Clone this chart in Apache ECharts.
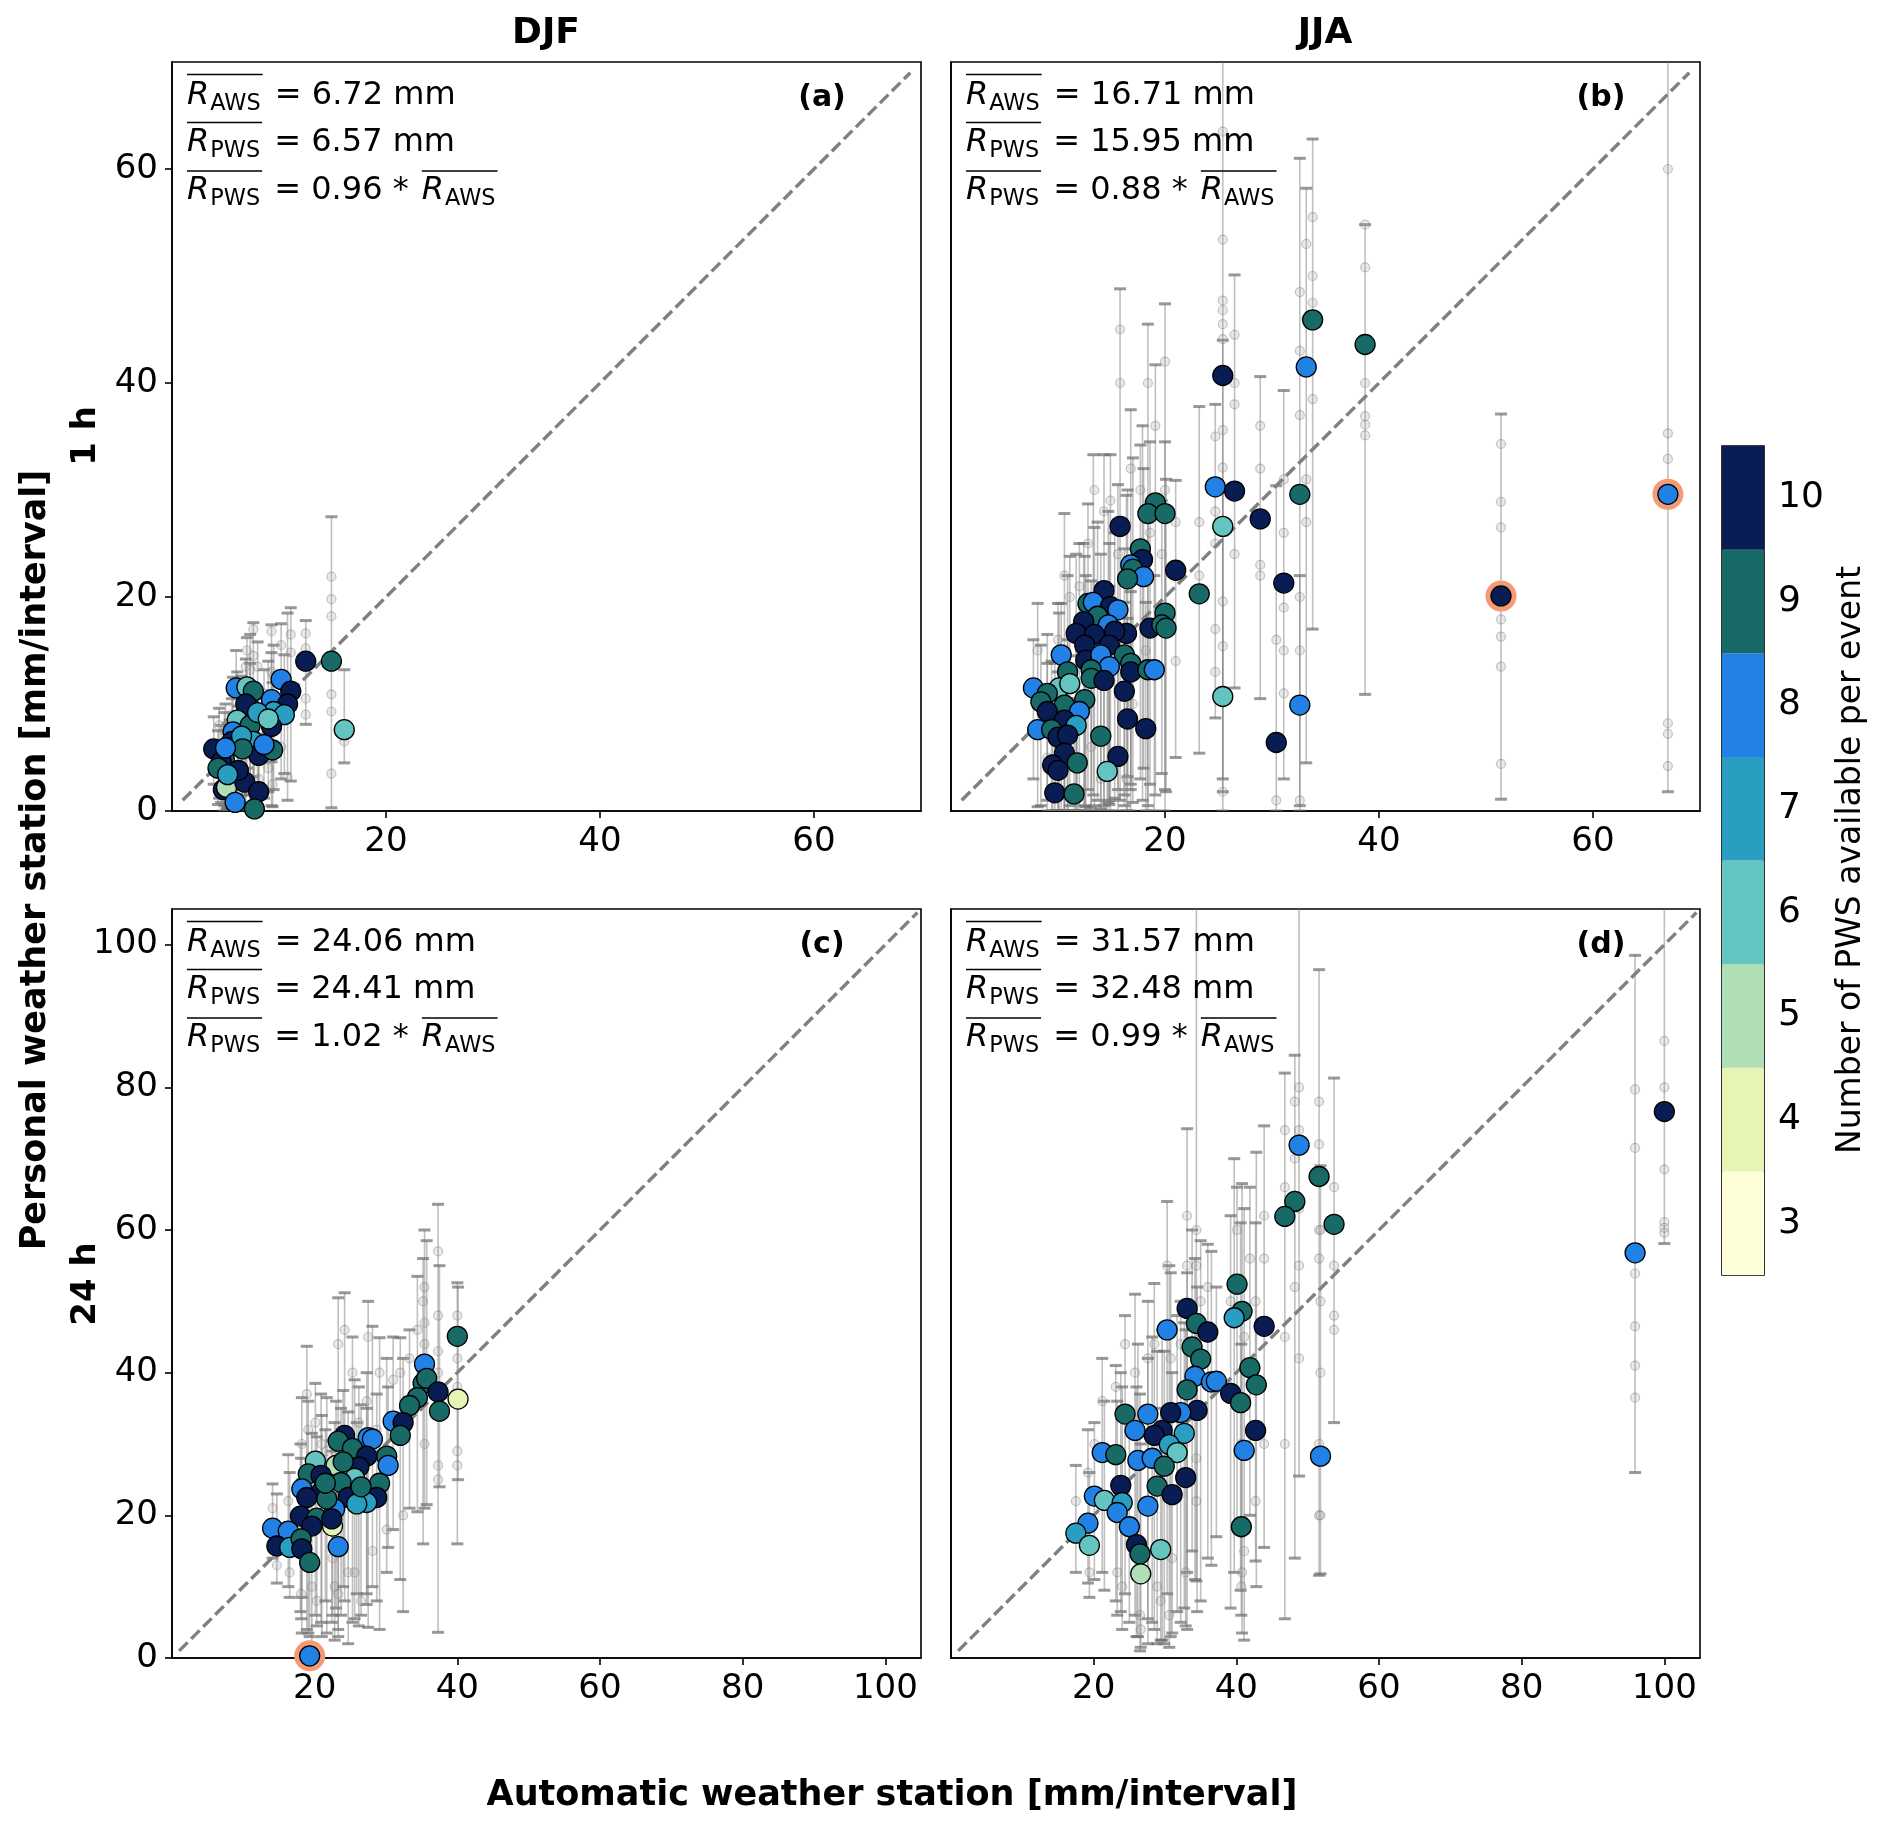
<!DOCTYPE html>
<html>
<head>
<meta charset="utf-8">
<title>AWS vs PWS</title>
<script src="https://cdn.jsdelivr.net/npm/echarts@6/dist/echarts.min.js"></script>
<style>
	html, body { margin: 0; padding: 0; background: #fff; }
	#chart { width: 1892px; height: 1832px; }
</style>
</head>
<body>
<div id="chart"></div>
<script>
// Colour levels of the colour bar (number of PWS per event)
const CB_LEVELS = [ 3, 4, 5, 6, 7, 8, 9, 10 ];
const CB_COLORS = [ '#fefed8', '#e6f5b3', '#b0dfb6', '#64c4bf', '#2a9ec1', '#2281e5', '#176a66', '#0a1c54' ];

const TICKS_SHORT = [ 20, 40, 60 ];
const TICKS_LONG = [ 20, 40, 60, 80, 100 ];
const YTICKS_SHORT = [ 0, 20, 40, 60 ];
const YTICKS_LONG = [ 0, 20, 40, 60, 80, 100 ];
const DIAG_SHORT = [ [ 1, 1 ], [ 69, 69 ] ];
const DIAG_LONG = [ [ 1, 1 ], [ 104.5, 104.5 ] ];

// Stats text: mean AWS, mean PWS, ratio
const STATS_A = [ '6.72', '6.57', '0.96' ];
const STATS_B = [ '16.71', '15.95', '0.88' ];
const STATS_C = [ '24.06', '24.41', '1.02' ];
const STATS_D = [ '31.57', '32.48', '0.99' ];

// Events: [AWS, PWS, number of PWS, PWS min, PWS max]
const EVENTS_A = [
	[ 12.5, 14.0, 10, 8.1, 17.8 ], [ 14.9, 14.0, 9, 0.3, 27.5 ], [ 16.1, 7.6, 6, 4.5, 13.2 ],
	[ 10.2, 12.3, 8, 3.0, 17.5 ], [ 11.1, 11.2, 10, 2.8, 19.0 ], [ 6.0, 11.5, 8, 5.5, 15.0 ],
	[ 7.0, 11.6, 6, 4.0, 16.2 ], [ 7.6, 11.2, 9, 3.2, 17.6 ], [ 9.3, 10.4, 8, 4.6, 17.4 ],
	[ 10.8, 10.0, 10, 1.0, 18.5 ], [ 9.5, 9.3, 7, 2.0, 15.5 ], [ 10.5, 9.0, 7, 3.5, 14.6 ],
	[ 7.3, 9.6, 9, 1.5, 16.5 ], [ 6.9, 10.0, 10, 0.5, 14.2 ], [ 6.1, 8.5, 6, 1.0, 13.0 ],
	[ 5.7, 7.4, 8, 0.8, 12.5 ], [ 7.3, 8.0, 9, 0.6, 13.8 ], [ 9.3, 7.9, 10, 0.5, 14.8 ],
	[ 7.6, 6.5, 7, 0.3, 11.6 ], [ 8.1, 5.2, 10, 0.2, 10.5 ], [ 9.4, 5.7, 9, 0.4, 12.0 ],
	[ 5.6, 6.5, 10, 1.8, 10.5 ], [ 4.4, 5.5, 9, 1.2, 9.6 ], [ 3.9, 5.8, 10, 2.5, 8.8 ],
	[ 4.9, 4.8, 9, 0.5, 9.2 ], [ 4.6, 4.6, 10, 0.8, 8.0 ], [ 4.3, 4.0, 9, 0.6, 7.5 ],
	[ 5.4, 2.9, 8, 0.2, 8.5 ], [ 4.8, 2.0, 10, 0.0, 6.0 ], [ 5.1, 2.2, 5, 0.2, 5.5 ],
	[ 6.8, 2.7, 10, 0.1, 9.0 ], [ 8.1, 1.8, 10, 0.0, 7.2 ], [ 5.9, 0.8, 8, 0.0, 4.5 ],
	[ 7.7, 0.2, 9, 0.0, 5.0 ], [ 6.2, 3.8, 10, 0.5, 9.8 ], [ 5.2, 3.4, 7, 0.3, 8.2 ],
	[ 6.5, 7.0, 7, 1.5, 12.6 ], [ 8.6, 6.2, 8, 1.2, 13.2 ], [ 8.0, 9.2, 7, 2.4, 15.8 ],
	[ 9.0, 8.6, 6, 1.8, 14.0 ], [ 6.6, 5.8, 9, 0.4, 11.0 ], [ 5.0, 5.9, 8, 1.5, 10.0 ]
];
const EVENTS_B = [
	[ 15.8, 26.6, 10, 1.0, 48.8 ], [ 19.1, 28.8, 9, 1.5, 41.7 ], [ 18.4, 27.8, 9, 0.5, 45.5 ],
	[ 20.0, 27.8, 9, 2.0, 47.4 ], [ 17.7, 24.5, 9, 3.0, 34.2 ], [ 17.9, 23.5, 10, 1.0, 36.0 ],
	[ 16.8, 23.0, 8, 2.5, 37.5 ], [ 17.0, 22.6, 9, 0.8, 33.0 ], [ 18.0, 21.9, 8, 4.0, 32.0 ],
	[ 16.5, 21.7, 9, 3.2, 30.0 ], [ 21.0, 22.5, 10, 5.0, 30.9 ], [ 23.2, 20.3, 9, 5.4, 37.8 ],
	[ 14.3, 20.6, 10, 0.5, 33.3 ], [ 12.8, 19.4, 9, 2.0, 28.7 ], [ 13.3, 19.5, 8, 1.5, 33.3 ],
	[ 14.9, 19.1, 10, 0.0, 33.3 ], [ 15.6, 18.8, 8, 2.0, 30.5 ], [ 13.7, 18.2, 9, 1.0, 27.0 ],
	[ 12.4, 17.7, 10, 0.5, 25.0 ], [ 14.7, 17.4, 8, 0.8, 28.0 ], [ 16.4, 16.6, 10, 0.0, 29.5 ],
	[ 15.3, 16.8, 10, 1.2, 26.0 ], [ 11.7, 16.6, 10, 0.0, 24.0 ], [ 13.4, 16.5, 10, 0.5, 26.5 ],
	[ 18.6, 17.1, 10, 2.5, 34.5 ], [ 20.0, 18.5, 9, 0.0, 34.5 ], [ 19.7, 17.4, 9, 3.5, 29.0 ],
	[ 20.1, 17.1, 9, 1.8, 31.0 ], [ 12.5, 15.5, 10, 0.0, 23.8 ], [ 14.8, 15.5, 10, 1.0, 25.0 ],
	[ 10.3, 14.6, 8, 0.0, 19.4 ], [ 12.6, 14.1, 10, 0.4, 22.0 ], [ 14.0, 14.6, 8, 0.2, 24.0 ],
	[ 16.2, 14.6, 9, 1.5, 24.5 ], [ 16.8, 13.8, 9, 0.0, 22.5 ], [ 14.8, 13.5, 8, 0.6, 21.0 ],
	[ 16.8, 13.0, 10, 2.0, 20.5 ], [ 18.4, 13.2, 9, 0.0, 27.0 ], [ 19.0, 13.2, 8, 0.0, 22.0 ],
	[ 13.1, 13.2, 9, 0.0, 21.5 ], [ 13.1, 12.4, 9, 0.3, 20.0 ], [ 14.3, 12.2, 10, 0.0, 20.5 ],
	[ 10.9, 13.0, 9, 0.0, 22.0 ], [ 10.1, 11.5, 6, 0.0, 18.5 ], [ 11.1, 11.9, 6, 0.5, 23.8 ],
	[ 7.7, 11.5, 8, 3.0, 16.0 ], [ 9.0, 11.0, 9, 1.0, 13.8 ], [ 8.4, 10.2, 9, 0.5, 15.5 ],
	[ 12.5, 10.4, 9, 0.0, 19.0 ], [ 10.6, 9.9, 9, 0.0, 27.8 ], [ 9.0, 9.3, 10, 0.0, 16.5 ],
	[ 12.0, 9.3, 8, 0.0, 25.0 ], [ 16.2, 11.2, 10, 0.5, 19.5 ], [ 10.6, 8.5, 10, 0.0, 15.0 ],
	[ 11.7, 8.0, 7, 0.0, 17.0 ], [ 8.1, 7.6, 8, 0.4, 19.4 ], [ 9.4, 7.6, 9, 0.0, 14.0 ],
	[ 10.0, 6.9, 10, 0.0, 19.4 ], [ 10.9, 7.1, 10, 0.0, 16.0 ], [ 16.5, 8.6, 10, 0.0, 18.0 ],
	[ 18.2, 7.7, 10, 0.0, 19.5 ], [ 14.0, 7.0, 9, 0.0, 17.5 ], [ 10.6, 5.4, 10, 0.0, 12.5 ],
	[ 15.6, 5.1, 10, 0.0, 15.0 ], [ 14.6, 3.7, 6, 0.0, 12.0 ], [ 11.8, 4.5, 9, 0.0, 14.5 ],
	[ 9.5, 4.3, 10, 0.0, 11.5 ], [ 10.0, 3.8, 10, 0.0, 13.0 ], [ 9.7, 1.7, 10, 0.0, 13.8 ],
	[ 11.5, 1.6, 9, 0.0, 10.5 ], [ 33.2, 41.5, 8, 4.5, 58.2 ], [ 33.8, 45.9, 9, 17.0, 62.8 ],
	[ 25.4, 40.7, 10, 1.8, 75.0 ], [ 38.7, 43.6, 9, 10.9, 54.8 ], [ 24.7, 30.3, 8, 8.7, 38.0 ],
	[ 26.5, 29.9, 10, 11.5, 50.1 ], [ 25.4, 26.6, 6, 3.0, 44.0 ], [ 28.9, 27.3, 10, 10.5, 40.6 ],
	[ 32.6, 29.6, 9, 0.0, 61.0 ], [ 31.1, 21.3, 10, 3.0, 39.3 ], [ 51.4, 20.1, 10, 1.1, 37.1 ],
	[ 67.0, 29.6, 8, 1.8, 75.0 ], [ 25.4, 10.7, 6, 0.0, 30.0 ], [ 32.6, 9.9, 8, 0.5, 22.0 ],
	[ 30.4, 6.4, 10, 0.0, 30.4 ]
];
const EVENTS_C = [
	[ 40.0, 45.1, 9, 16.0, 52.6 ], [ 40.1, 36.3, 4, 25.0, 52.0 ], [ 35.4, 41.2, 8, 21.0, 60.0 ],
	[ 35.2, 38.5, 9, 16.0, 56.0 ], [ 35.7, 39.2, 9, 21.5, 58.5 ], [ 37.3, 37.3, 10, 3.6, 63.6 ],
	[ 37.5, 34.6, 9, 24.0, 55.0 ], [ 34.4, 36.5, 9, 20.5, 53.5 ], [ 33.3, 35.4, 9, 21.0, 46.0 ],
	[ 31.0, 33.2, 8, 18.0, 45.0 ], [ 32.4, 33.0, 10, 6.5, 42.0 ], [ 32.0, 31.2, 9, 11.0, 44.9 ],
	[ 24.2, 31.2, 10, 8.0, 51.2 ], [ 23.3, 30.4, 9, 3.0, 50.5 ], [ 27.5, 30.9, 8, 4.3, 50.0 ],
	[ 28.1, 30.7, 8, 10.0, 46.5 ], [ 25.3, 29.4, 9, 5.0, 45.0 ], [ 30.1, 28.3, 9, 12.0, 42.0 ],
	[ 30.3, 27.0, 8, 15.5, 38.0 ], [ 27.3, 28.3, 10, 9.0, 40.0 ], [ 26.2, 26.8, 10, 4.5, 38.0 ],
	[ 20.1, 27.6, 6, 6.0, 38.5 ], [ 23.0, 27.0, 5, 7.0, 36.0 ], [ 19.1, 25.8, 9, 3.5, 36.0 ],
	[ 20.9, 25.6, 10, 5.0, 37.0 ], [ 25.6, 25.2, 6, 5.5, 39.0 ], [ 29.1, 24.5, 9, 4.0, 44.9 ],
	[ 18.2, 23.7, 8, 8.5, 36.5 ], [ 21.0, 23.4, 10, 3.0, 34.0 ], [ 18.9, 22.5, 10, 4.0, 43.7 ],
	[ 23.7, 24.6, 9, 6.0, 35.0 ], [ 24.7, 22.5, 10, 2.0, 34.5 ], [ 28.7, 22.5, 10, 8.0, 37.0 ],
	[ 27.3, 21.8, 7, 7.5, 35.0 ], [ 22.8, 20.9, 8, 2.5, 33.0 ], [ 21.7, 22.3, 9, 3.5, 36.5 ],
	[ 18.0, 19.9, 10, 6.5, 30.0 ], [ 20.3, 19.6, 9, 4.5, 31.0 ], [ 22.5, 18.5, 4, 6.0, 29.0 ],
	[ 19.6, 18.5, 10, 2.0, 31.5 ], [ 14.1, 18.2, 8, 14.0, 24.4 ], [ 16.3, 17.8, 8, 10.0, 28.5 ],
	[ 14.7, 15.7, 10, 10.5, 23.0 ], [ 16.5, 15.5, 7, 8.5, 26.0 ], [ 18.1, 16.7, 9, 5.5, 28.0 ],
	[ 18.2, 15.3, 10, 3.5, 25.0 ], [ 23.3, 15.6, 8, 4.0, 28.0 ], [ 19.3, 13.4, 9, 3.0, 25.5 ],
	[ 19.3, 0.3, 8, 0.0, 0.6 ], [ 25.9, 21.6, 7, 9.0, 33.0 ], [ 22.4, 19.5, 10, 5.0, 30.5 ],
	[ 21.5, 24.5, 9, 8.0, 32.0 ], [ 26.5, 24.0, 9, 6.0, 35.5 ], [ 24.0, 27.5, 9, 10.0, 37.5 ]
];
const EVENTS_D = [
	[ 48.8, 71.9, 8, 25.5, 110 ], [ 51.6, 67.5, 9, 11.6, 96.5 ], [ 48.2, 64.0, 9, 14.0, 84.5 ],
	[ 46.8, 61.9, 9, 5.5, 82.0 ], [ 53.7, 60.8, 9, 33.0, 81.3 ], [ 40.1, 52.4, 9, 18.0, 66.0 ],
	[ 40.8, 48.6, 9, 3.5, 66.5 ], [ 39.7, 47.7, 7, 12.0, 70.0 ], [ 43.9, 46.5, 10, 15.5, 74.6 ],
	[ 33.1, 49.0, 10, 12.0, 74.2 ], [ 34.4, 46.9, 9, 10.8, 110 ], [ 36.0, 45.7, 10, 14.0, 58.0 ],
	[ 30.3, 46.0, 8, 9.0, 64.0 ], [ 33.8, 43.6, 9, 15.0, 60.0 ], [ 35.0, 41.9, 9, 8.0, 58.5 ],
	[ 41.9, 40.7, 9, 20.0, 66.0 ], [ 42.8, 38.3, 9, 10.0, 70.9 ], [ 34.2, 39.5, 8, 11.0, 56.0 ],
	[ 36.5, 38.7, 8, 13.0, 57.0 ], [ 37.2, 38.8, 8, 17.0, 52.0 ], [ 39.2, 37.1, 10, 7.0, 62.0 ],
	[ 40.6, 35.8, 9, 9.5, 61.0 ], [ 33.1, 37.6, 9, 4.0, 54.0 ], [ 42.7, 31.9, 10, 13.6, 61.0 ],
	[ 41.1, 29.1, 8, 2.5, 63.0 ], [ 51.8, 28.3, 8, 11.8, 69.0 ], [ 34.5, 34.7, 10, 6.5, 52.0 ],
	[ 32.2, 34.4, 8, 5.0, 50.0 ], [ 30.8, 34.4, 10, 3.0, 54.0 ], [ 24.4, 34.2, 9, 9.0, 48.0 ],
	[ 27.6, 34.2, 8, 5.5, 50.0 ], [ 25.8, 31.9, 8, 6.0, 51.0 ], [ 29.6, 31.9, 10, 2.5, 46.0 ],
	[ 32.7, 31.5, 7, 7.0, 47.0 ], [ 28.5, 31.2, 10, 4.0, 52.5 ], [ 30.6, 29.9, 7, 1.5, 55.0 ],
	[ 31.7, 28.8, 6, 6.5, 48.0 ], [ 21.2, 28.8, 8, 12.0, 42.0 ], [ 23.1, 28.5, 9, 8.0, 41.0 ],
	[ 26.2, 27.7, 8, 3.0, 44.0 ], [ 28.2, 28.0, 8, 5.0, 45.0 ], [ 29.9, 26.9, 9, 2.0, 43.0 ],
	[ 32.9, 25.3, 10, 4.5, 46.0 ], [ 23.8, 24.2, 10, 6.5, 40.0 ], [ 28.9, 24.1, 9, 2.0, 43.0 ],
	[ 31.0, 22.9, 10, 3.5, 40.0 ], [ 20.1, 22.7, 8, 11.0, 33.0 ], [ 21.5, 22.1, 6, 9.5, 36.0 ],
	[ 24.0, 21.8, 7, 4.0, 38.0 ], [ 27.6, 21.3, 8, 2.0, 42.0 ], [ 23.3, 20.4, 8, 6.0, 36.0 ],
	[ 19.2, 18.9, 8, 10.5, 32.0 ], [ 17.5, 17.5, 7, 12.0, 27.0 ], [ 25.0, 18.4, 8, 5.0, 34.0 ],
	[ 19.4, 15.8, 6, 8.5, 26.0 ], [ 26.0, 15.9, 10, 3.0, 38.0 ], [ 26.5, 14.6, 9, 1.0, 37.0 ],
	[ 29.4, 15.2, 6, 2.5, 35.0 ], [ 26.6, 11.8, 5, 1.5, 30.0 ], [ 40.7, 18.4, 9, 6.0, 44.0 ],
	[ 95.9, 56.8, 8, 26.0, 98.5 ], [ 100.0, 76.6, 10, 58.1, 110 ]
];

// Individual PWS values that stand out as grey dots: [AWS, PWS]
const DOTS_A = [
	[ 14.9, 21.9 ], [ 14.9, 19.8 ], [ 14.9, 18.2 ], [ 14.9, 10.9 ], [ 14.9, 9.3 ], [ 14.9, 3.5 ],
	[ 12.5, 16.6 ], [ 12.5, 15.2 ], [ 12.5, 10.5 ], [ 12.5, 9.0 ], [ 16.1, 6.5 ], [ 16.1, 7.1 ],
	[ 11.1, 16.5 ], [ 11.1, 14.8 ], [ 10.8, 3.2 ], [ 10.2, 15.5 ], [ 10.2, 6.0 ], [ 9.3, 16.8 ],
	[ 9.3, 13.0 ], [ 7.6, 17.0 ], [ 7.6, 14.5 ], [ 7.0, 15.0 ], [ 7.0, 6.2 ], [ 8.1, 9.0 ],
	[ 8.1, 3.0 ], [ 6.9, 13.5 ], [ 5.7, 11.0 ], [ 5.7, 3.5 ], [ 4.4, 8.0 ], [ 6.1, 12.0 ],
	[ 9.5, 12.6 ], [ 10.5, 12.0 ], [ 8.6, 11.0 ], [ 9.0, 4.0 ], [ 7.3, 13.2 ], [ 6.5, 9.5 ],
	[ 4.9, 7.5 ], [ 5.6, 9.0 ], [ 8.0, 13.5 ], [ 9.4, 2.5 ]
];
const DOTS_B = [
	[ 51.4, 34.3 ], [ 51.4, 28.9 ], [ 51.4, 26.5 ], [ 51.4, 17.9 ], [ 51.4, 16.3 ], [ 51.4, 13.5 ], [ 51.4, 4.4 ],
	[ 67.0, 60.0 ], [ 67.0, 35.3 ], [ 67.0, 32.9 ], [ 67.0, 8.2 ], [ 67.0, 7.2 ], [ 67.0, 4.2 ],
	[ 38.7, 54.8 ], [ 38.7, 50.8 ], [ 38.7, 40.0 ], [ 38.7, 36.9 ], [ 38.7, 36.1 ], [ 38.7, 35.1 ],
	[ 25.4, 63.5 ], [ 25.4, 53.4 ], [ 25.4, 47.7 ], [ 25.4, 46.8 ], [ 25.4, 45.5 ], [ 25.4, 44.1 ],
	[ 25.4, 35.6 ], [ 25.4, 32.1 ], [ 25.4, 19.6 ], [ 25.4, 15.4 ], [ 25.4, 1.8 ],
	[ 33.8, 55.5 ], [ 33.8, 50.0 ], [ 33.8, 47.5 ], [ 33.8, 38.5 ], [ 33.2, 53.0 ], [ 33.2, 46.0 ],
	[ 33.2, 31.0 ], [ 33.2, 27.0 ], [ 32.6, 48.5 ], [ 32.6, 43.0 ], [ 32.6, 37.0 ], [ 32.6, 20.0 ],
	[ 32.6, 15.0 ], [ 32.6, 1.0 ], [ 26.5, 44.5 ], [ 26.5, 40.0 ], [ 26.5, 38.0 ], [ 26.5, 24.0 ],
	[ 24.7, 35.0 ], [ 24.7, 28.0 ], [ 24.7, 25.0 ], [ 24.7, 17.0 ], [ 24.7, 13.0 ],
	[ 28.9, 36.0 ], [ 28.9, 32.0 ], [ 28.9, 23.0 ], [ 28.9, 22.0 ], [ 31.1, 31.0 ], [ 31.1, 26.0 ],
	[ 31.1, 19.0 ], [ 31.1, 15.0 ], [ 31.1, 11.0 ], [ 30.4, 16.0 ], [ 30.4, 1.0 ],
	[ 23.2, 27.0 ], [ 23.2, 22.0 ], [ 21.0, 27.0 ], [ 21.0, 14.0 ], [ 15.8, 45.0 ], [ 15.8, 40.0 ],
	[ 18.4, 40.0 ], [ 20.0, 42.0 ], [ 19.1, 36.0 ], [ 16.8, 32.0 ], [ 17.7, 30.0 ], [ 14.3, 28.0 ],
	[ 13.4, 30.0 ], [ 14.9, 29.0 ], [ 12.8, 25.0 ], [ 10.6, 22.0 ], [ 12.0, 21.0 ], [ 11.1, 20.0 ],
	[ 10.0, 16.0 ], [ 8.1, 15.0 ], [ 9.0, 5.0 ], [ 13.1, 6.0 ], [ 15.6, 24.0 ], [ 16.4, 3.0 ],
	[ 18.6, 26.0 ], [ 20.0, 30.0 ], [ 19.7, 24.0 ], [ 18.2, 15.0 ], [ 17.0, 10.0 ], [ 14.0, 3.0 ],
	[ 11.7, 2.0 ]
];
const DOTS_C = [
	[ 40.0, 48.0 ], [ 40.0, 42.0 ], [ 40.0, 38.0 ], [ 40.0, 29.0 ], [ 40.0, 27.0 ],
	[ 37.3, 57.0 ], [ 37.3, 48.0 ], [ 37.3, 43.0 ], [ 37.3, 27.0 ], [ 37.3, 25.0 ], [ 37.3, 40.0 ],
	[ 35.4, 52.0 ], [ 35.4, 47.0 ], [ 35.4, 44.0 ], [ 35.4, 30.0 ], [ 35.2, 50.0 ], [ 34.4, 46.0 ],
	[ 33.3, 42.0 ], [ 32.0, 40.0 ], [ 31.0, 39.0 ], [ 32.4, 20.0 ], [ 29.1, 40.0 ], [ 28.7, 32.0 ],
	[ 27.5, 45.0 ], [ 27.3, 36.0 ], [ 26.2, 33.0 ], [ 25.3, 40.0 ], [ 24.2, 46.0 ], [ 23.3, 44.0 ],
	[ 24.7, 12.0 ], [ 22.8, 10.0 ], [ 21.0, 30.0 ], [ 20.1, 33.0 ], [ 19.1, 32.0 ], [ 18.9, 37.0 ],
	[ 18.2, 30.0 ], [ 17.5, 20.0 ], [ 16.3, 22.0 ], [ 14.1, 21.0 ], [ 14.7, 13.0 ], [ 16.5, 12.0 ],
	[ 18.1, 9.0 ], [ 19.6, 10.0 ], [ 20.3, 8.0 ], [ 22.5, 14.0 ], [ 23.3, 9.0 ], [ 25.6, 12.0 ],
	[ 26.5, 8.0 ], [ 28.1, 15.0 ], [ 30.1, 18.0 ], [ 30.3, 33.0 ], [ 22.4, 27.0 ], [ 21.7, 29.0 ]
];
const DOTS_D = [
	[ 95.9, 79.7 ], [ 95.9, 71.5 ], [ 95.9, 53.9 ], [ 95.9, 46.5 ], [ 95.9, 41.0 ], [ 95.9, 36.5 ],
	[ 100.0, 86.5 ], [ 100.0, 80.0 ], [ 100.0, 68.5 ], [ 100.0, 61.1 ], [ 100.0, 60.3 ], [ 100.0, 59.6 ],
	[ 53.7, 66.0 ], [ 53.7, 55.0 ], [ 53.7, 48.0 ], [ 53.7, 46.0 ], [ 51.6, 78.0 ], [ 51.6, 72.0 ],
	[ 51.6, 60.0 ], [ 51.6, 56.0 ], [ 51.6, 30.0 ], [ 51.6, 20.0 ], [ 48.8, 80.0 ], [ 48.8, 74.0 ],
	[ 48.8, 63.0 ], [ 48.8, 55.0 ], [ 48.8, 42.0 ], [ 48.2, 78.0 ], [ 48.2, 70.0 ], [ 48.2, 52.0 ],
	[ 46.8, 74.0 ], [ 46.8, 66.0 ], [ 46.8, 45.0 ], [ 46.8, 30.0 ], [ 51.8, 60.0 ], [ 51.8, 50.0 ],
	[ 51.8, 40.0 ], [ 51.8, 20.0 ], [ 34.4, 60.0 ], [ 34.4, 55.0 ], [ 34.4, 28.0 ], [ 34.4, 22.0 ],
	[ 43.9, 62.0 ], [ 43.9, 56.0 ], [ 43.9, 30.0 ], [ 42.7, 50.0 ], [ 42.7, 22.0 ], [ 41.9, 56.0 ],
	[ 40.1, 60.0 ], [ 40.8, 30.0 ], [ 40.8, 12.0 ], [ 39.2, 50.0 ], [ 41.1, 45.0 ], [ 41.1, 15.0 ],
	[ 33.1, 62.0 ], [ 33.1, 55.0 ], [ 30.3, 55.0 ], [ 36.0, 52.0 ], [ 35.0, 50.0 ], [ 32.2, 44.0 ],
	[ 30.8, 42.0 ], [ 28.5, 44.0 ], [ 27.6, 42.0 ], [ 25.8, 40.0 ], [ 24.4, 44.0 ], [ 23.1, 38.0 ],
	[ 21.2, 36.0 ], [ 20.1, 30.0 ], [ 19.2, 26.0 ], [ 17.5, 22.0 ], [ 19.4, 12.0 ], [ 26.5, 6.0 ],
	[ 26.6, 4.0 ], [ 29.4, 8.0 ], [ 28.9, 10.0 ], [ 31.0, 14.0 ], [ 32.9, 12.0 ], [ 30.6, 6.0 ],
	[ 24.0, 10.0 ], [ 23.3, 12.0 ], [ 40.7, 30.0 ], [ 40.7, 10.0 ]
];

// Events flagged with an orange ring: [AWS, PWS]
const FLAGGED_B = [ [ 51.4, 20.1 ], [ 67.0, 29.6 ] ];
const FLAGGED_C = [ [ 19.3, 0.3 ] ];

const FONT = 'DejaVu Sans';
const PANEL_SIZE = 749;

const panels = [
	{ left: 172, top: 62, max: 70, xTicks: TICKS_SHORT, yTicks: YTICKS_SHORT, diag: DIAG_SHORT,
		events: EVENTS_A, dots: DOTS_A, flagged: [], stats: STATS_A, tag: '(a)', yLabels: true },
	{ left: 951, top: 62, max: 70, xTicks: TICKS_SHORT, yTicks: YTICKS_SHORT, diag: DIAG_SHORT,
		events: EVENTS_B, dots: DOTS_B, flagged: FLAGGED_B, stats: STATS_B, tag: '(b)', yLabels: false },
	{ left: 172, top: 909, max: 105, xTicks: TICKS_LONG, yTicks: YTICKS_LONG, diag: DIAG_LONG,
		events: EVENTS_C, dots: DOTS_C, flagged: FLAGGED_C, stats: STATS_C, tag: '(c)', yLabels: true },
	{ left: 951, top: 909, max: 105, xTicks: TICKS_LONG, yTicks: YTICKS_LONG, diag: DIAG_LONG,
		events: EVENTS_D, dots: DOTS_D, flagged: [], stats: STATS_D, tag: '(d)', yLabels: false }
];

const measureCtx = document.createElement( 'canvas' ).getContext( '2d' );

function measure( text, size, style ) {
	measureCtx.font = ( style || '' ) + ' ' + size + 'px "' + FONT + '"';
	return measureCtx.measureText( text ).width;
}

function text( str, x, y, size, extra ) {
	return {
		type: 'text', x: x, y: y, silent: true, z: 100,
		style: Object.assign( {
			text: str, fontSize: size, fontFamily: FONT, fill: '#000',
			align: 'left', verticalAlign: 'middle'
		}, extra || {} )
	};
}

// Draws an overlined R with a subscript, returns the x where it ends
function meanSymbol( out, x, baseline, overY, sub ) {
	const wR = measure( 'R', 32, 'italic' );
	const wSub = measure( sub, 22.4 );
	out.push( text( 'R', x, baseline - 11.2, 32, { fontStyle: 'italic' } ) );
	out.push( text( sub, x + wR + 1, baseline + 5 - 7.8, 22.4 ) );
	out.push( {
		type: 'line', silent: true, z: 100,
		shape: { x1: x, y1: overY, x2: x + wR + wSub + 3, y2: overY },
		style: { stroke: '#000', lineWidth: 1.6 }
	} );
	return x + wR + 1 + wSub;
}

function statsGraphics( panel ) {
	const out = [];
	const x0 = panel.left + 15;
	const baselines = [ 44.5, 92, 140 ].map( ( d ) => panel.top + d );
	const overlines = [ 12.5, 60.5, 109 ].map( ( d ) => panel.top + d );

	let x = meanSymbol( out, x0, baselines[ 0 ], overlines[ 0 ], 'AWS' );
	out.push( text( ' = ' + panel.stats[ 0 ] + ' mm', x + 4, baselines[ 0 ] - 11.2, 32 ) );

	x = meanSymbol( out, x0, baselines[ 1 ], overlines[ 1 ], 'PWS' );
	out.push( text( ' = ' + panel.stats[ 1 ] + ' mm', x + 4, baselines[ 1 ] - 11.2, 32 ) );

	x = meanSymbol( out, x0, baselines[ 2 ], overlines[ 2 ], 'PWS' );
	const rest = ' = ' + panel.stats[ 2 ] + ' * ';
	out.push( text( rest, x + 4, baselines[ 2 ] - 11.2, 32 ) );
	meanSymbol( out, x + 4 + measure( rest, 32 ) + 3, baselines[ 2 ], overlines[ 2 ], 'AWS' );

	out.push( text( panel.tag, panel.left + 650, panel.top + 36, 30,
		{ fontWeight: 'bold', align: 'center' } ) );
	return out;
}

function axisOf( max, ticks, visible ) {
	return {
		type: 'value', min: 0, max: max,
		axisLine: { show: true, onZero: false, lineStyle: { color: '#000', width: 1.6 } },
		axisTick: { show: visible, length: 7, customValues: ticks, lineStyle: { color: '#000', width: 1.6 } },
		axisLabel: { show: visible, customValues: ticks, fontSize: 34, color: '#000', fontFamily: FONT, margin: 14 },
		splitLine: { show: false }
	};
}

function rangeSeries( events, idx ) {
	return {
		type: 'custom', xAxisIndex: idx, yAxisIndex: idx, clip: true, silent: true, z: 1,
		data: events.map( ( e ) => [ e[ 0 ], e[ 3 ], e[ 4 ] ] ),
		encode: { x: 0, y: [ 1, 2 ] },
		renderItem: ( params, api ) => {
			const lo = api.coord( [ api.value( 0 ), api.value( 1 ) ] );
			const hi = api.coord( [ api.value( 0 ), api.value( 2 ) ] );
			const cap = { stroke: 'rgba(110,110,110,0.7)', lineWidth: 3 };
			return {
				type: 'group',
				children: [
					{ type: 'line', shape: { x1: lo[ 0 ], y1: lo[ 1 ], x2: hi[ 0 ], y2: hi[ 1 ] },
						style: { stroke: 'rgba(128,128,128,0.5)', lineWidth: 1.6 } },
					{ type: 'line', shape: { x1: lo[ 0 ] - 6, y1: lo[ 1 ], x2: lo[ 0 ] + 6, y2: lo[ 1 ] }, style: cap },
					{ type: 'line', shape: { x1: hi[ 0 ] - 6, y1: hi[ 1 ], x2: hi[ 0 ] + 6, y2: hi[ 1 ] }, style: cap }
				]
			};
		}
	};
}

const grids = [];
const xAxes = [];
const yAxes = [];
const series = [];
let graphics = [];

panels.forEach( ( panel, i ) => {
	grids.push( {
		left: panel.left, top: panel.top, width: PANEL_SIZE, height: PANEL_SIZE,
		show: true, borderColor: '#000', borderWidth: 1.6, backgroundColor: 'transparent',
		outerBoundsMode: 'none', containLabel: false
	} );
	xAxes.push( Object.assign( axisOf( panel.max, panel.xTicks, true ), { gridIndex: i } ) );
	yAxes.push( Object.assign( axisOf( panel.max, panel.yTicks, panel.yLabels ), { gridIndex: i } ) );

	series.push( rangeSeries( panel.events, i ) );
	series.push( {
		type: 'scatter', xAxisIndex: i, yAxisIndex: i, silent: true, z: 2,
		symbolSize: 9, data: panel.dots,
		itemStyle: { color: 'rgba(160,160,160,0.22)', borderColor: 'rgba(120,120,120,0.4)', borderWidth: 1.2, opacity: 1 }
	} );
	series.push( {
		type: 'line', xAxisIndex: i, yAxisIndex: i, silent: true, z: 3,
		symbol: 'none', data: panel.diag,
		lineStyle: { color: '#808080', width: 3.4, type: [ 12, 5 ], opacity: 1 }
	} );
	series.push( {
		type: 'scatter', xAxisIndex: i, yAxisIndex: i, silent: true, z: 4,
		symbolSize: 31, data: panel.flagged,
		itemStyle: { color: '#f59a76', opacity: 1 }
	} );
	series.push( {
		type: 'scatter', xAxisIndex: i, yAxisIndex: i, silent: true, z: 5,
		symbolSize: 20,
		data: panel.events.map( ( e ) => [ e[ 0 ], e[ 1 ], e[ 2 ] ] ),
		itemStyle: {
			color: ( p ) => CB_COLORS[ p.value[ 2 ] - 3 ],
			borderColor: '#000', borderWidth: 1.3, opacity: 1
		}
	} );
	graphics = graphics.concat( statsGraphics( panel ) );
} );

// Colour bar as its own small grid
grids.push( {
	left: 1722, top: 446, width: 42, height: 829,
	show: true, borderColor: '#000', borderWidth: 1.6, outerBoundsMode: 'none', containLabel: false
} );
xAxes.push( { type: 'value', gridIndex: 4, min: 0, max: 1, show: false } );
yAxes.push( {
	type: 'value', gridIndex: 4, min: 2.5, max: 10.5, position: 'right',
	axisLine: { show: false },
	axisTick: { show: true, length: 7, customValues: CB_LEVELS, lineStyle: { color: '#000', width: 1.6 } },
	axisLabel: { customValues: CB_LEVELS, fontSize: 36, color: '#000', fontFamily: FONT, margin: 14 },
	splitLine: { show: false }
} );
series.push( {
	type: 'custom', xAxisIndex: 4, yAxisIndex: 4, silent: true,
	data: CB_LEVELS.map( ( v ) => [ 0, v ] ),
	encode: { x: 0, y: 1 },
	renderItem: ( params, api ) => {
		const v = api.value( 1 );
		const p0 = api.coord( [ 0, v + 0.5 ] );
		const p1 = api.coord( [ 1, v - 0.5 ] );
		return {
			type: 'rect',
			shape: { x: p0[ 0 ], y: p0[ 1 ], width: p1[ 0 ] - p0[ 0 ], height: p1[ 1 ] - p0[ 1 ] },
			style: { fill: CB_COLORS[ params.dataIndex ] }
		};
	}
} );

const bold = { fontWeight: 'bold', align: 'center' };
graphics.push( text( 'DJF', 546, 34, 36, bold ) );
graphics.push( text( 'JJA', 1325, 34, 36, bold ) );
graphics.push( Object.assign( text( '1 h', 86, 436, 34, bold ), { rotation: Math.PI / 2 } ) );
graphics.push( Object.assign( text( '24 h', 86, 1284, 34, bold ), { rotation: Math.PI / 2 } ) );
graphics.push( Object.assign( text( 'Personal weather station [mm/interval]', 36, 860, 35, bold ),
	{ rotation: Math.PI / 2 } ) );
graphics.push( text( 'Automatic weather station [mm/interval]', 892, 1796, 35, bold ) );
graphics.push( Object.assign( text( 'Number of PWS available per event', 1851, 860, 33, { align: 'center' } ),
	{ rotation: Math.PI / 2 } ) );

const chart = echarts.init( document.getElementById( 'chart' ), null, { renderer: 'canvas' } );
chart.setOption( {
	animation: false,
	backgroundColor: '#fff',
	grid: grids,
	xAxis: xAxes,
	yAxis: yAxes,
	series: series,
	graphic: graphics
} );
</script>
</body>
</html>
